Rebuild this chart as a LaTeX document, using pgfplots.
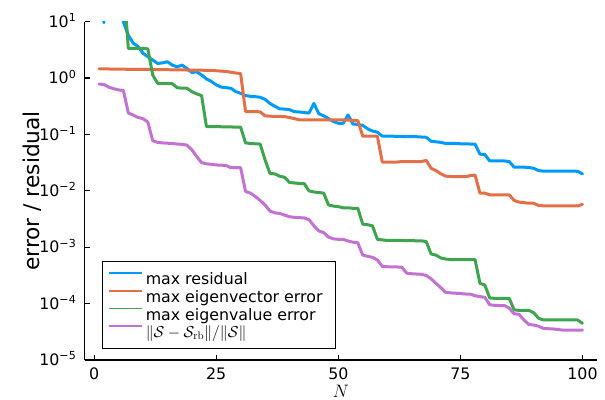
\RequirePackage{fix-cm}
\documentclass[border=0pt]{standalone}
\usepackage[no-math]{fontspec}
\setmainfont{DejaVu Sans}
\usepackage{pgfplots}
\usepackage{pgfplotstable}
\pgfplotsset{compat=1.18}

\definecolor{resblue}{HTML}{009AFA}
\definecolor{vecorange}{HTML}{E36F47}
\definecolor{valgreen}{HTML}{3EA44E}
\definecolor{projpurple}{HTML}{C371D2}

\newcommand{\tickfont}{\fontsize{15.8bp}{18bp}\selectfont}
\newcommand{\guidefont}{\fontsize{21.7bp}{25bp}\selectfont}

\pgfplotsset{mainline/.style={line width=3bp, line join=round, line cap=round}}

% maximum residual over the test set
\pgfplotstableread{
N v
1 500
2 9.6
3 300
4 120
5 40
6 9.9
7 5.75
8 4.17
9 3.63
10 2.75
11 2.40
12 2.09
13 1.82
14 1.86
15 1.95
16 1.70
17 1.58
18 1.70
19 1.48
20 1.26
21 1.29
22 1.135
23 0.966
24 0.871
25 0.759
26 0.692
27 0.676
28 0.661
29 0.575
30 0.537
31 0.490
32 0.475
33 0.468
34 0.457
35 0.420
36 0.355
37 0.316
38 0.285
39 0.282
40 0.275
41 0.254
42 0.251
43 0.245
44 0.240
45 0.355
46 0.234
47 0.214
48 0.191
49 0.170
50 0.158
51 0.158
52 0.222
53 0.153
54 0.151
55 0.145
56 0.126
57 0.115
58 0.110
59 0.0933
60 0.0933
61 0.0933
62 0.0923
63 0.0923
64 0.0912
65 0.0912
66 0.0912
67 0.0902
68 0.0891
69 0.0759
70 0.0741
71 0.0724
72 0.0692
73 0.0692
74 0.0692
75 0.0684
76 0.0684
77 0.0676
78 0.0676
79 0.0447
80 0.0442
81 0.0339
82 0.0339
83 0.0339
84 0.0339
85 0.0331
86 0.0263
87 0.0263
88 0.0263
89 0.0260
90 0.0251
91 0.0229
92 0.0224
93 0.0224
94 0.0224
95 0.0224
96 0.0224
97 0.0224
98 0.0224
99 0.0222
100 0.0200
}\resid

% maximum eigenvector error
\pgfplotstableread{
N v
1 1.45
2 1.45
3 1.45
4 1.44
5 1.44
6 1.44
7 1.43
8 1.43
9 1.43
10 1.42
11 1.42
12 1.42
13 1.41
14 1.41
15 1.41
16 1.40
17 1.40
18 1.40
19 1.39
20 1.39
21 1.39
22 1.38
23 1.37
24 1.36
25 1.35
26 1.33
27 1.31
28 1.27
29 1.23
30 1.20
31 0.255
32 0.255
33 0.254
34 0.252
35 0.214
36 0.211
37 0.209
38 0.209
39 0.207
40 0.200
41 0.191
42 0.182
43 0.182
44 0.182
45 0.182
46 0.182
47 0.182
48 0.182
49 0.182
50 0.182
51 0.182
52 0.180
53 0.178
54 0.176
55 0.0933
56 0.0933
57 0.0933
58 0.0933
59 0.0324
60 0.0324
61 0.0324
62 0.0324
63 0.0331
64 0.0331
65 0.0331
66 0.0331
67 0.0331
68 0.0347
69 0.0251
70 0.0229
71 0.0200
72 0.0182
73 0.0180
74 0.0178
75 0.0178
76 0.0178
77 0.0186
78 0.0191
79 0.00912
80 0.00912
81 0.00851
82 0.00851
83 0.00851
84 0.00851
85 0.00851
86 0.00676
87 0.00631
88 0.00617
89 0.00603
90 0.00603
91 0.00550
92 0.00543
93 0.00543
94 0.00543
95 0.00543
96 0.00543
97 0.00543
98 0.00543
99 0.00543
100 0.00575
}\vecerr

% maximum eigenvalue error
\pgfplotstableread{
N v
1 200
2 200
3 200
4 200
5 200
6 60
7 3.37
8 3.37
9 3.37
10 3.37
11 3.30
12 1.13
13 0.807
14 0.807
15 0.803
16 0.794
17 0.676
18 0.661
19 0.661
20 0.575
21 0.525
22 0.490
23 0.138
24 0.138
25 0.138
26 0.137
27 0.137
28 0.136
29 0.135
30 0.135
31 0.0708
32 0.0692
33 0.0684
34 0.0676
35 0.0355
36 0.0204
37 0.0200
38 0.0182
39 0.0174
40 0.0141
41 0.0138
42 0.0135
43 0.0135
44 0.0100
45 0.00955
46 0.00933
47 0.00912
48 0.00562
49 0.00537
50 0.00525
51 0.00501
52 0.00501
53 0.00490
54 0.00490
55 0.00257
56 0.00251
57 0.00240
58 0.00138
59 0.00135
60 0.00132
61 0.00132
62 0.00132
63 0.00132
64 0.00131
65 0.00131
66 0.00130
67 0.00130
68 0.00126
69 0.000759
70 0.000724
71 0.000646
72 0.000617
73 0.000603
74 0.000603
75 0.000603
76 0.000603
77 0.000603
78 0.000603
79 0.000229
80 0.000214
81 0.000126
82 0.000124
83 0.000124
84 0.000124
85 0.000124
86 7.76e-5
87 7.59e-5
88 7.59e-5
89 7.59e-5
90 6.92e-5
91 5.50e-5
92 5.13e-5
93 5.13e-5
94 5.13e-5
95 5.13e-5
96 5.13e-5
97 5.13e-5
98 5.13e-5
99 5.13e-5
100 4.47e-5
}\valerr

% relative projection error of the reduced basis
\pgfplotstableread{
N v
1 0.785
2 0.767
3 0.692
4 0.646
5 0.617
6 0.603
7 0.240
8 0.221
9 0.200
10 0.191
11 0.166
12 0.0776
13 0.0724
14 0.0708
15 0.0700
16 0.0692
17 0.0676
18 0.0668
19 0.0646
20 0.0537
21 0.0407
22 0.0316
23 0.0302
24 0.0295
25 0.0288
26 0.0285
27 0.0282
28 0.0257
29 0.0257
30 0.0257
31 0.00977
32 0.00912
33 0.00794
34 0.00676
35 0.00562
36 0.00437
37 0.00407
38 0.00398
39 0.00372
40 0.00347
41 0.00339
42 0.00335
43 0.00331
44 0.00309
45 0.00240
46 0.00195
47 0.00182
48 0.00151
49 0.00141
50 0.00138
51 0.00138
52 0.00129
53 0.00123
54 0.00120
55 7.24e-4
56 6.92e-4
57 6.61e-4
58 5.96e-4
59 4.57e-4
60 4.52e-4
61 4.47e-4
62 4.47e-4
63 4.42e-4
64 3.47e-4
65 3.39e-4
66 3.35e-4
67 3.31e-4
68 3.16e-4
69 2.75e-4
70 2.29e-4
71 1.91e-4
72 1.58e-4
73 1.55e-4
74 1.53e-4
75 1.51e-4
76 1.48e-4
77 1.48e-4
78 1.38e-4
79 1.33e-4
80 1.29e-4
81 9.55e-5
82 9.33e-5
83 9.23e-5
84 9.23e-5
85 8.32e-5
86 6.61e-5
87 6.46e-5
88 5.13e-5
89 4.27e-5
90 4.17e-5
91 3.98e-5
92 3.63e-5
93 3.59e-5
94 3.55e-5
95 3.47e-5
96 3.39e-5
97 3.39e-5
98 3.39e-5
99 3.39e-5
100 3.39e-5
}\projerr

\begin{document}
\begin{tikzpicture}
\begin{axis}[
  at={(84.5bp,40bp)}, anchor=south west,
  scale only axis, width=512.5bp, height=338.3bp,
  ymode=log,
  xmin=-1.97, xmax=102.97, ymin=1e-5, ymax=10,
  axis x line*=bottom, axis y line*=left,
  axis line style={-, black, line width=1.2bp},
  tick align=inside, major tick length=5.5bp,
  every tick/.style={black, line width=1.2bp},
  yminorticks=false,
  xtick={0,25,50,75,100}, xticklabels={0,25,50,75,100},
  ytick={1e-5,1e-4,1e-3,1e-2,1e-1,1,10},
  yticklabels={10\textsuperscript{−5},10\textsuperscript{−4},10\textsuperscript{−3},10\textsuperscript{−2},10\textsuperscript{−1},10\textsuperscript{0},10\textsuperscript{1}},
  xticklabel style={font=\tickfont, anchor=base, inner sep=0pt, yshift=-19bp},
  yticklabel style={font=\tickfont, anchor=base east, inner sep=0pt, xshift=-8bp, yshift=-5.7bp},
  xlabel={$N$},
  ylabel={error / residual},
  every axis x label/.style={at={([yshift=-37.5bp]axis description cs:0.5,0)}, anchor=base, inner sep=0pt, text depth=0pt, font=\fontsize{18bp}{20bp}\selectfont},
  every axis y label/.style={at={([xshift=-45bp]axis description cs:0,0.5)}, rotate=90, anchor=base, font=\guidefont},
  legend cell align=left,
  legend image code/.code={\fill[#1] (0bp,4.4bp) rectangle (33bp,6.2bp);},
  legend style={at={(axis description cs:0.0351,0.2926)}, anchor=north west,
    draw=black, line width=1bp, fill=white,
    inner xsep=5.8bp, inner ysep=8.3bp, row sep=0pt, column sep=4bp,
    font=\tickfont,
    nodes={inner sep=0pt, text height=15bp, text depth=2.6bp}},
]
\addplot[resblue, mainline, forget plot] table[x=N, y=v] {\resid};
\addplot[vecorange, mainline, forget plot] table[x=N, y=v] {\vecerr};
\addplot[valgreen, mainline, forget plot] table[x=N, y=v] {\valerr};
\addplot[projpurple, mainline, forget plot] table[x=N, y=v] {\projerr};

\addlegendimage{fill=resblue, draw=none}
\addlegendentry{max residual}
\addlegendimage{fill=vecorange, draw=none}
\addlegendentry{max eigenvector error\rule{6.8bp}{0pt}}
\addlegendimage{fill=valgreen, draw=none}
\addlegendentry{max eigenvalue error}
\addlegendimage{fill=projpurple, draw=none}
\addlegendentry{$\|\mathcal{S}-\mathcal{S}_{\mathrm{rb}}\| / \|\mathcal{S}\|$}
\end{axis}
\pgfresetboundingbox
\path[use as bounding box] (0,0) rectangle (605bp,400bp);
\end{tikzpicture}
\end{document}
